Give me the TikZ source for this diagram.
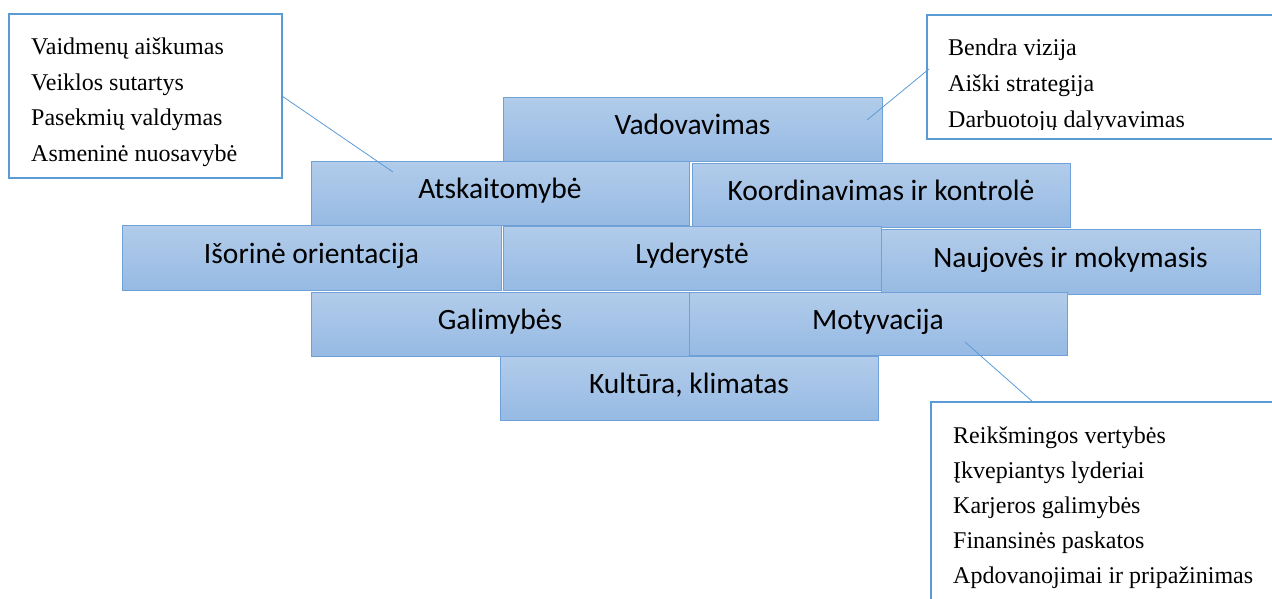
\documentclass[tikz,border=0pt]{standalone}
\usepackage{fontspec}
\setmainfont{Liberation Serif}
\newfontfamily\blockfont{Carlito}
\definecolor{blktop}{HTML}{B2CCEA}
\definecolor{blkbot}{HTML}{96BAE4}
\definecolor{blkedge}{HTML}{6FA0D8}
\definecolor{noteedge}{HTML}{5B9BD5}
\begin{document}
\begin{tikzpicture}[x=1pt,y=-1pt,
  blk/.style={draw=blkedge, line width=1pt, top color=blktop, bottom color=blkbot,
    inner sep=0pt, outer sep=0pt, text height=18pt, text depth=6.5pt,
    font=\blockfont\fontsize{29.5}{34}\selectfont, text=black},
  note/.style={draw=noteedge, line width=2pt, fill=white, inner sep=0pt, outer sep=0pt},
  noteline/.style={anchor=base west, inner sep=0pt, font=\fontsize{24}{29}\selectfont},
  link/.style={draw=noteedge, line width=0.8pt}]
\clip (0,0) rectangle (1272,598);

% building blocks, drawn top row first
\node[blk, minimum width=379pt, minimum height=64pt] (vad) at (692.5,129) {Vadovavimas};
\node[blk, minimum width=378pt, minimum height=64pt] (ats) at (500,193) {Atskaitomybė};
\node[blk, minimum width=378pt, minimum height=64pt] (koo) at (881,195) {Koordinavimas ir kontrolė};
\node[blk, minimum width=379pt, minimum height=65pt] (iso) at (311.5,257.5) {Išorinė orientacija};
\node[blk, minimum width=378pt, minimum height=64pt] (lyd) at (692,258) {Lyderystė};
\node[blk, minimum width=379pt, minimum height=65pt] (nau) at (1070.5,261.5) {Naujovės ir mokymasis};
\node[blk, minimum width=378pt, minimum height=64pt] (gal) at (500,324) {Galimybės};
\node[blk, minimum width=378pt, minimum height=63pt] (mot) at (878,323.5) {Motyvacija};
\node[blk, minimum width=378pt, minimum height=64pt] (kul) at (689,388) {Kultūra, klimatas};

% callout boxes
\node[note, minimum width=273pt, minimum height=164pt] (lc) at (145.5,96) {};
\node[note, minimum width=358pt, minimum height=124pt] (rc) at (1106,77) {};
\node[note, minimum width=354pt, minimum height=238pt] (bc) at (1108,521) {};

\foreach \t [count=\i from 0] in {Vaidmenų aiškumas, Veiklos sutartys, Pasekmių valdymas, Asmeninė nuosavybė}
  \node[noteline] (lc-\i) at (31,{54.5+35.6*\i}) {\t};

\begin{scope}
  \clip (928,16) rectangle (1285,129.5);
  \foreach \t [count=\i from 0] in {Bendra vizija, Aiški strategija, Darbuotojų dalyvavimas}
    \node[noteline] (rc-\i) at (948,{55+36*\i}) {\t};
\end{scope}

\foreach \t [count=\i from 0] in {Reikšmingos vertybės, Įkvepiantys lyderiai, Karjeros galimybės, Finansinės paskatos, Apdovanojimai ir pripažinimas}
  \node[noteline] (bc-\i) at (953,{443+35*\i}) {\t};

% connectors from callouts into their blocks
\coordinate (ats-pt) at (393,172);
\coordinate (vad-pt) at (867,120);
\coordinate (mot-pt) at (965,342);
\draw[link] (lc.east) -- (ats-pt);
\draw[link] (vad-pt) -- ([xshift=2pt,yshift=8pt]rc.west);
\draw[link] (mot-pt) -- ([xshift=102pt]bc.north west);
\end{tikzpicture}
\end{document}
